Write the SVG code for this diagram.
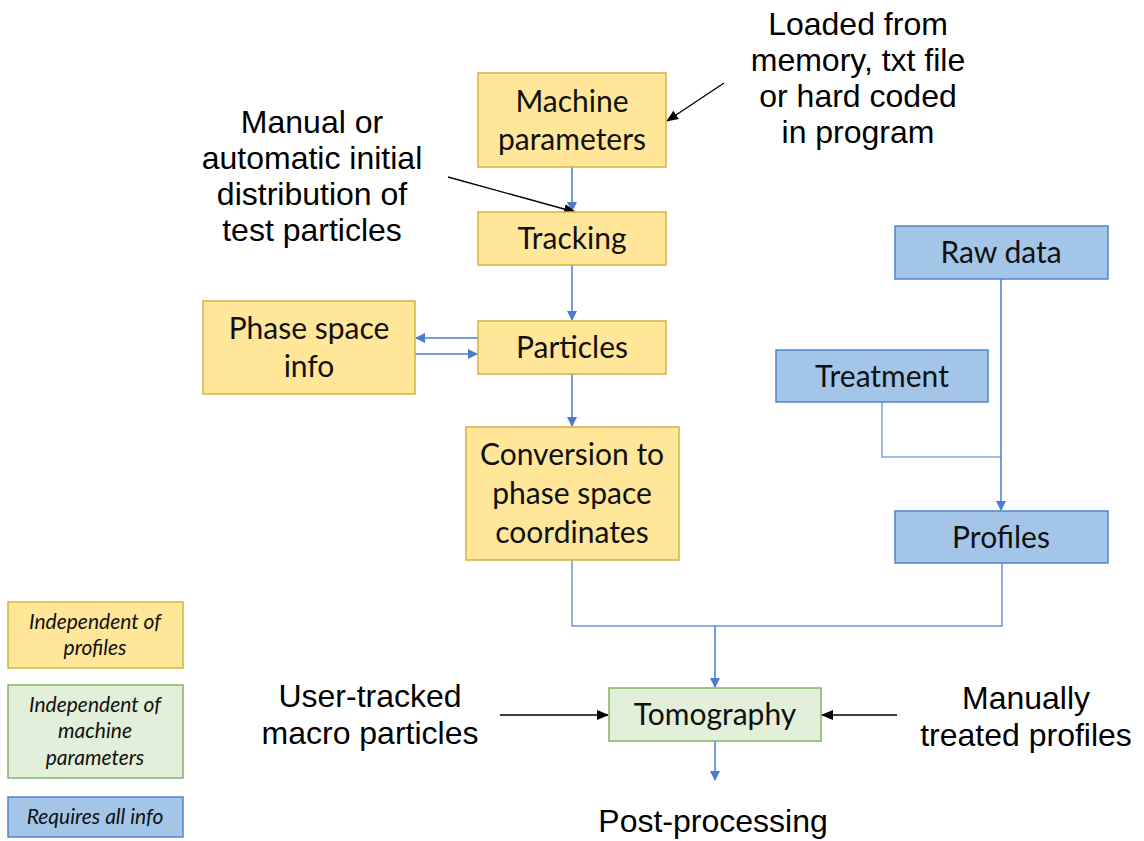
<svg xmlns="http://www.w3.org/2000/svg" width="1144" height="841" viewBox="0 0 1144 841">
<defs>
<style>
.y{fill:#FFE699;stroke:#D6B33F;stroke-width:1.5}
.b{fill:#A3C6E8;stroke:#4E86C8;stroke-width:1.5}
.g{fill:#E2EFD9;stroke:#82B366;stroke-width:1.5}
.bt{font-family:Lato,"Open Sans",sans-serif;font-size:30px;fill:#111;text-anchor:middle}
.lt{font-family:Lato,"Open Sans",sans-serif;font-size:21px;font-style:italic;fill:#111;text-anchor:middle}
.t{font-family:"Liberation Sans",Arial,sans-serif;font-size:32px;fill:#000;text-anchor:middle}
.c{fill:none;stroke:#4A7BD0;stroke-width:1.5}
.k{fill:none;stroke:#000;stroke-width:1.3}
</style>
<marker id="ab" markerWidth="10" markerHeight="10" refX="9" refY="5" orient="auto" markerUnits="userSpaceOnUse"><path d="M0,0 L10,5 L0,10 z" fill="#4A7BD0"/></marker>
<marker id="ak" markerWidth="12" markerHeight="12" refX="11" refY="6" orient="auto" markerUnits="userSpaceOnUse"><path d="M0,1 L12,6 L0,11 z" fill="#000"/></marker>
</defs>
<rect width="1144" height="841" fill="#fff"/>
<g id="connectors">
<line class="c" x1="572" y1="167" x2="572" y2="211" marker-end="url(#ab)"/>
<line class="c" x1="572" y1="265" x2="572" y2="320" marker-end="url(#ab)"/>
<line class="c" x1="478" y1="338" x2="416" y2="338" marker-end="url(#ab)"/>
<line class="c" x1="415" y1="354" x2="477" y2="354" marker-end="url(#ab)"/>
<line class="c" x1="572" y1="374" x2="572" y2="426" marker-end="url(#ab)"/>
<line class="c" x1="1001" y1="279" x2="1001" y2="510" marker-end="url(#ab)"/>
<polyline class="c" points="882,402 882,457 1001,457" stroke-opacity="0.7"/>
<polyline class="c" points="572,560 572,626 1002,626 1002,563" stroke-opacity="0.8"/>
<line class="c" x1="715" y1="626" x2="715" y2="687" marker-end="url(#ab)"/>
<line class="c" x1="715" y1="741" x2="715" y2="780" marker-end="url(#ab)"/>
<line class="k" x1="500" y1="715" x2="608" y2="715" marker-end="url(#ak)"/>
<line class="k" x1="897" y1="715" x2="822" y2="715" marker-end="url(#ak)"/>
<line class="k" x1="724" y1="83" x2="667" y2="121" marker-end="url(#ak)"/>
<line class="k" x1="448" y1="177" x2="575" y2="212" marker-end="url(#ak)"/>
</g>
<g id="machine"><rect class="y" x="478" y="73" width="188" height="94"/><text class="bt" x="572" y="112">Machine</text><text class="bt" x="572" y="150">parameters</text></g>
<g id="tracking"><rect class="y" x="478" y="212" width="188" height="53"/><text class="bt" x="572" y="249">Tracking</text></g>
<g id="particles"><rect class="y" x="478" y="321" width="188" height="53"/><text class="bt" x="572" y="358">Particles</text></g>
<g id="phase"><rect class="y" x="203" y="301" width="212" height="93"/><text class="bt" x="309" y="339">Phase space</text><text class="bt" x="309" y="377">info</text></g>
<g id="conversion"><rect class="y" x="466" y="427" width="213" height="133"/><text class="bt" x="572" y="465">Conversion to</text><text class="bt" x="572" y="504">phase space</text><text class="bt" x="572" y="543">coordinates</text></g>
<g id="rawdata"><rect class="b" x="895" y="226" width="213" height="53"/><text class="bt" x="1001" y="263">Raw data</text></g>
<g id="treatment"><rect class="b" x="776" y="350" width="212" height="52"/><text class="bt" x="882" y="387">Treatment</text></g>
<g id="profiles"><rect class="b" x="895" y="511" width="213" height="52"/><text class="bt" x="1001" y="548">Profiles</text></g>
<g id="tomography"><rect class="g" x="609" y="688" width="212" height="53"/><text class="bt" x="715" y="725">Tomography</text></g>
<g id="legend-yellow"><rect class="y" x="8" y="602" width="175" height="66"/><text class="lt" x="95" y="629">Independent of</text><text class="lt" x="95" y="655">profiles</text></g>
<g id="legend-green"><rect class="g" x="8" y="685" width="175" height="93"/><text class="lt" x="95" y="712">Independent of</text><text class="lt" x="95" y="738">machine</text><text class="lt" x="95" y="765">parameters</text></g>
<g id="legend-blue"><rect class="b" x="8" y="797" width="175" height="40"/><text class="lt" x="95" y="824">Requires all info</text></g>
<g id="labels">
<text class="t" x="858" y="35">Loaded from</text>
<text class="t" x="858" y="71">memory, txt file</text>
<text class="t" x="858" y="107">or hard coded</text>
<text class="t" x="858" y="143">in program</text>
<text class="t" x="312" y="133">Manual or</text>
<text class="t" x="312" y="169">automatic initial</text>
<text class="t" x="312" y="205">distribution of</text>
<text class="t" x="312" y="241">test particles</text>
<text class="t" x="370" y="707">User-tracked</text>
<text class="t" x="370" y="744">macro particles</text>
<text class="t" x="1026" y="709">Manually</text>
<text class="t" x="1026" y="746">treated profiles</text>
<text class="t" x="713" y="832">Post-processing</text>
</g>
</svg>
